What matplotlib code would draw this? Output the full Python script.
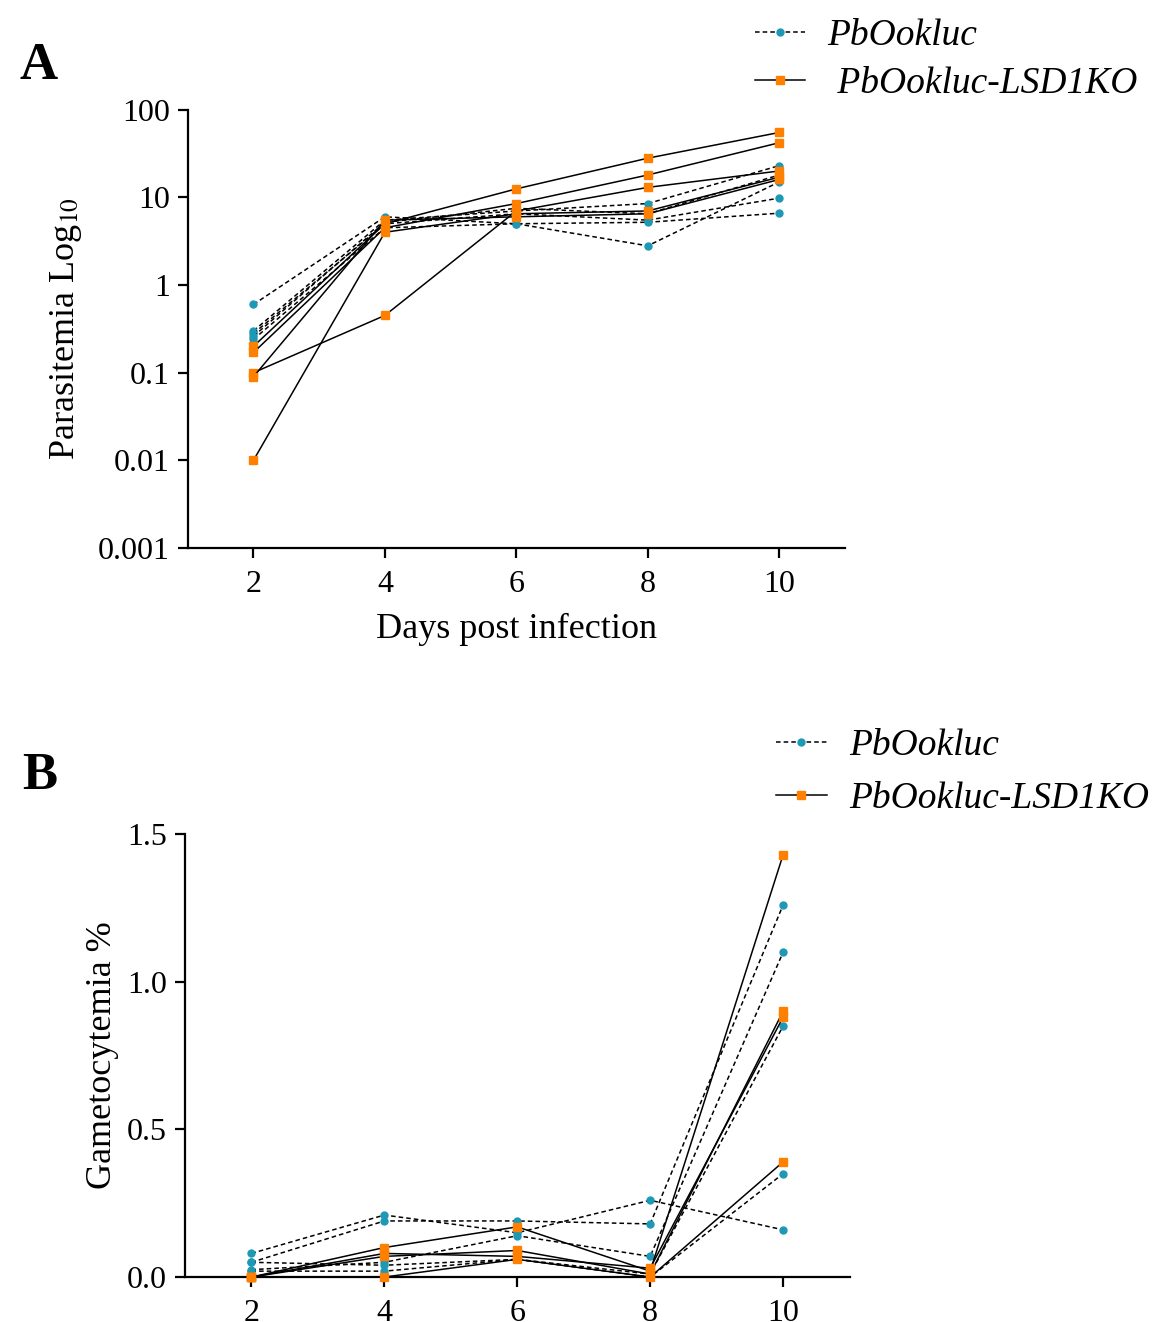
import numpy as np
import matplotlib
matplotlib.use("Agg")
import matplotlib.pyplot as plt

plt.rcParams['font.family'] = ['Liberation Serif', 'DejaVu Serif']
plt.rcParams['mathtext.fontset'] = 'stix'

days = [2, 4, 6, 8, 10]

# Panel A - parasitemia (%), one list per mouse
para_ctrl = [
    [0.6, 6.0, 5.0, 2.8, 15],
    [0.30, 5.5, 7.0, 8.5, 23],
    [0.28, 5.0, 6.5, 5.5, 9.8],
    [0.24, 4.5, 5.0, 5.2, 6.6],
    [0.26, 5.2, 7.5, 6.5, 18],
]
para_ko = [
    [0.20, 5.0, 12.5, 28, 55],
    [0.17, 4.5, 8.5, 18, 42],
    [0.10, 0.45, 7.0, 13, 20],
    [0.01, 4.0, 6.5, 7.0, 17],
    [0.09, 5.5, 6.0, 6.5, 16],
]
para_ticks = [0.001, 0.01, 0.1, 1, 10, 100]
para_tick_labels = ['0.001', '0.01', '0.1', '1', '10', '100']

# Panel B - gametocytemia (%)
game_ctrl = [
    [0.08, 0.21, 0.15, 0.26, 0.16],
    [0.05, 0.19, 0.19, 0.18, 1.26],
    [0.025, 0.05, 0.14, 0.07, 1.10],
    [0.05, 0.04, 0.06, 0.01, 0.85],
    [0.02, 0.02, 0.06, 0.0, 0.35],
]
game_ko = [
    [0.0, 0.10, 0.17, 0.02, 1.43],
    [0.0, 0.07, 0.09, 0.01, 0.90],
    [0.0, 0.0, 0.06, 0.0, 0.39],
    [0.0, 0.08, 0.07, 0.03, 0.88],
]
game_ticks = [0.0, 0.5, 1.0, 1.5]
game_tick_labels = ['0.0', '0.5', '1.0', '1.5']

labels_a = ['PbOokluc', ' PbOokluc-LSD1KO']
labels_b = ['PbOokluc', 'PbOokluc-LSD1KO']
blue = '#1e98b4'
orange = '#ff8000'

fig = plt.figure(figsize=(11.59, 13.22), dpi=100)
axA = fig.add_axes([0.162, 0.5855, 0.567, 0.3315])
axB = fig.add_axes([0.1596, 0.034, 0.5734, 0.335])


def draw_groups(ax, ctrl, ko, labels):
    for i, row in enumerate(ctrl):
        ax.plot(days, row, color='black', lw=1.1, ls=(0, (3, 2)),
                marker='o', ms=5, mfc=blue, mec=blue, clip_on=False,
                label=labels[0] if i == 0 else None, zorder=3)
    for i, row in enumerate(ko):
        ax.plot(days, row, color='black', lw=1.1, ls='-',
                marker='s', ms=6, mfc=orange, mec=orange, clip_on=False,
                label=labels[1] if i == 0 else None, zorder=3)


def style(ax):
    for s in ['top', 'right']:
        ax.spines[s].set_visible(False)
    for s in ['left', 'bottom']:
        ax.spines[s].set_linewidth(1.6)
    ax.set_xlim(1, 11)
    ax.set_xticks(days)
    ax.tick_params(axis='both', which='major', length=7, width=1.6,
                   labelsize=23, pad=6)
    ax.tick_params(axis='x', which='major', pad=9)
    ax.tick_params(axis='both', which='minor', length=0)


def add_legend(ax, anchor, spacing):
    ax.legend(loc='upper left', bbox_to_anchor=anchor, bbox_transform=fig.transFigure,
              frameon=False, prop={'style': 'italic', 'size': 27}, handlelength=1.35,
              handletextpad=0.6, labelspacing=spacing, borderpad=0, borderaxespad=0)


draw_groups(axA, para_ctrl, para_ko, labels_a)
axA.set_yscale('log')
axA.set_ylim(0.001, 100)
style(axA)
axA.set_yticks(para_ticks, labels=para_tick_labels)
axA.minorticks_off()
axA.set_xlabel('Days post infection', fontsize=26, labelpad=10)
axA.set_ylabel('Parasitemia Log$_{10}$', fontsize=26, labelpad=10)
add_legend(axA, (0.651, 0.986), 0.35)

draw_groups(axB, game_ctrl, game_ko, labels_b)
axB.set_ylim(0, 1.5)
style(axB)
axB.set_yticks(game_ticks, labels=game_tick_labels)
axB.set_ylabel('Gametocytemia %', fontsize=26, labelpad=6)
add_legend(axB, (0.6695, 0.449), 0.5)

fig.text(0.017, 0.95, 'A', fontsize=38, fontweight='bold', va='center')
fig.text(0.019, 0.413, 'B', fontsize=38, fontweight='bold', va='center')

fig.savefig('out.png', dpi=100)
